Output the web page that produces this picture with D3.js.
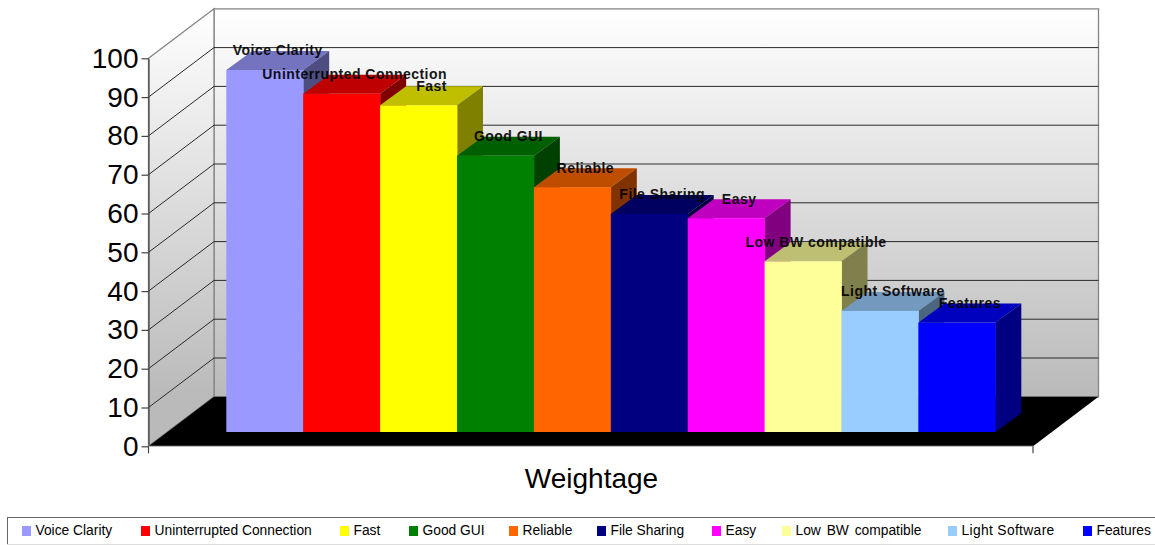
<!DOCTYPE html>
<html>
<head>
<meta charset="utf-8">
<script src="https://cdn.jsdelivr.net/npm/d3@7/dist/d3.min.js"></script>
<style>
  html, body { margin: 0; padding: 0; background: #fff; }
  svg { display: block; }
  text { font-family: "Liberation Sans", Arial, sans-serif; fill: #000; }
</style>
</head>
<body>
<svg id="chart" width="1155" height="545"></svg>
<script>
// Survey results: weightage per voice-application attribute
const categories = ["Voice Clarity", "Uninterrupted Connection", "Fast", "Good GUI", "Reliable",
  "File Sharing", "Easy", "Low BW compatible", "Light Software", "Features"];
const weightage = [93.3, 87.2, 84.2, 71.2, 63.1, 56.2, 55.1, 44.0, 31.2, 28.2];
const frontColors = ["#9999ff", "#ff0000", "#ffff00", "#008000", "#ff6600",
  "#000080", "#ff00ff", "#ffff99", "#99ccff", "#0000ff"];
const axisTitle = "Weightage";

const svg = d3.select("#chart");

// Oblique projection of the 3D box
const wallDx = 65.5, wallDy = -49.5;     // front plane to back wall
const barDx = 26, barDy = -19;           // depth of one column
const plotLeft = 148.5, plotRight = 1033;
const y = d3.scaleLinear().domain([0, 100]).range([446.3, 58.3]);
const x = d3.scaleBand().domain(categories).range([226.3, 995.3]);
const barBase = 432;
const barLift = y(0) - barBase;

const defs = svg.append("defs");
const grad = defs.append("linearGradient").attr("id", "wall")
  .attr("gradientUnits", "userSpaceOnUse")
  .attr("x1", 0).attr("x2", 0)
  .attr("y1", y(100) + wallDy).attr("y2", y(0) + wallDy);
grad.append("stop").attr("offset", 0).attr("stop-color", "#ffffff");
grad.append("stop").attr("offset", 1).attr("stop-color", "#bababa");

const pts = a => a.map(p => p.join(",")).join(" ");

// Walls and floor
const backX0 = plotLeft + wallDx, backX1 = plotRight + wallDx;
svg.append("polygon").attr("fill", "url(#wall)").attr("stroke", "#848484").attr("stroke-width", 1.3)
  .attr("points", pts([[backX0, y(100) + wallDy], [backX1, y(100) + wallDy], [backX1, y(0) + wallDy], [backX0, y(0) + wallDy]]));
svg.append("polygon").attr("fill", "url(#wall)").attr("stroke", "#848484").attr("stroke-width", 1.3)
  .attr("points", pts([[plotLeft, y(100)], [backX0, y(100) + wallDy], [backX0, y(0) + wallDy], [plotLeft, y(0)]]));
svg.append("polygon").attr("fill", "#000")
  .attr("points", pts([[plotLeft, y(0)], [backX0, y(0) + wallDy], [backX1, y(0) + wallDy], [plotRight, y(0)]]));

// Gridlines wrapping round the side wall and the back wall
const gridValues = d3.range(10, 100, 10);
const grid = svg.append("g").attr("fill", "none").attr("stroke", "#2a2a2a").attr("stroke-width", 1);
grid.selectAll("polyline").data(gridValues).join("polyline")
  .attr("points", v => pts([[plotLeft, y(v)], [backX0, y(v) + wallDy], [backX1, y(v) + wallDy]]));

// Columns, painted left to right so each one covers its neighbour's side face
const bars = svg.append("g").selectAll("g")
  .data(categories.map((name, i) => ({ name, value: weightage[i], color: frontColors[i] })))
  .join("g");
bars.each(function (d) {
  const g = d3.select(this);
  const x0 = x(d.name), x1 = x0 + x.bandwidth();
  const top = y(d.value) - barLift;
  const c = d3.rgb(d.color);
  const shade = k => d3.rgb(c.r * k, c.g * k, c.b * k).formatHex();
  g.append("polygon").attr("fill", shade(0.75))
    .attr("points", pts([[x0, top], [x0 + barDx, top + barDy], [x1 + barDx, top + barDy], [x1, top]]));
  g.append("polygon").attr("fill", shade(0.5))
    .attr("points", pts([[x1, top], [x1 + barDx, top + barDy], [x1 + barDx, barBase + barDy], [x1, barBase]]));
  g.append("rect").attr("fill", d.color)
    .attr("x", x0).attr("y", top).attr("width", x1 - x0 + 0.4).attr("height", barBase - top);
});

// Value axis
const yAxis = d3.axisLeft(y).tickValues(d3.range(0, 101, 10)).tickSize(7).tickSizeOuter(0).tickPadding(3);
const yG = svg.append("g").attr("transform", `translate(${plotLeft},0)`).call(yAxis);
yG.selectAll("path, line").attr("stroke", "#444").attr("stroke-width", 1.2);
yG.selectAll("text").style("font-size", "28px").style("font-family", '"Liberation Sans", Arial, sans-serif');

// Category axis line with its end ticks
const base = svg.append("g").attr("stroke", "#444").attr("stroke-width", 1.2);
base.append("line").attr("x1", plotLeft).attr("x2", plotRight).attr("y1", y(0)).attr("y2", y(0)).attr("stroke", "#bbb");
[plotLeft, plotRight].forEach(px =>
  base.append("line").attr("x1", px).attr("x2", px).attr("y1", y(0)).attr("y2", y(0) + 7));

svg.append("text").attr("x", 591.5).attr("y", 488).attr("text-anchor", "middle")
  .style("font-size", "28px").text(axisTitle);

// Column labels sit at the rear edge of each top face
svg.append("g").selectAll("text")
  .data(categories).join("text")
  .attr("x", (d) => x(d) + x.bandwidth() / 2 + barDx / 2)
  .attr("y", (d, i) => y(weightage[i]) - barLift + barDy + 4.5)
  .attr("text-anchor", "middle")
  .style("font-size", "14px").style("font-weight", "bold").style("letter-spacing", "0.47px")
  .style("opacity", 0.9)
  .text(d => d);

// Legend strip: each entry starts at its own slot along the strip
const legendSlots = [22, 141, 340, 409, 509, 597, 712, 782, 948, 1083];
const legend = svg.append("g");
legend.append("rect").attr("x", 7.5).attr("y", 517.5).attr("width", 1160).attr("height", 27)
  .attr("fill", "#fff").attr("stroke", "#666").attr("stroke-width", 1);
legend.append("line").attr("x1", 7).attr("x2", 1155).attr("y1", 544.5).attr("y2", 544.5).attr("stroke", "#ddd");
categories.forEach((name, i) => {
  legend.append("rect").attr("x", legendSlots[i]).attr("y", 526).attr("width", 9).attr("height", 10).attr("fill", frontColors[i]);
  const t = legend.append("text").attr("x", legendSlots[i] + 13.5).attr("y", 535)
    .style("font-size", "13.8px").text(name);
  if (name.startsWith("Low")) t.style("word-spacing", "2px");
  if (name.startsWith("Light")) t.style("letter-spacing", "0.35px");
});
</script>
</body>
</html>
